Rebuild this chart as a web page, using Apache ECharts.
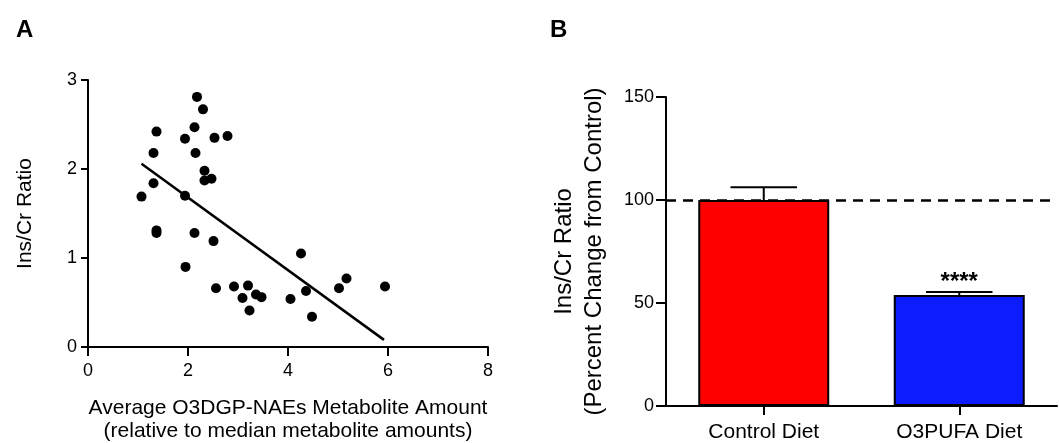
<!DOCTYPE html>
<html>
<head>
<meta charset="utf-8">
<script src="https://cdn.jsdelivr.net/npm/echarts@6/dist/echarts.min.js"></script>
<style>
html,body{margin:0;padding:0;background:#fff;}
#chart{width:1059px;height:443px;}
</style>
</head>
<body>
<div id="chart"></div>
<script>
// Panel A: scatter data
const scatterX = [2.18, 2.30, 1.37, 2.13, 1.94, 2.53, 2.79, 1.31, 2.15, 2.33, 2.33, 2.47, 1.31, 1.07, 1.94,
                  1.37, 1.37, 2.13, 2.51, 1.95, 2.56, 2.92, 3.20, 3.09, 3.36, 3.47, 3.23, 4.05, 4.26, 4.36,
                  4.48, 5.02, 5.17, 5.94];
const scatterY = [2.81, 2.67, 2.42, 2.47, 2.34, 2.35, 2.37, 2.18, 2.18, 1.98, 1.87, 1.89, 1.84, 1.69, 1.70,
                  1.31, 1.28, 1.28, 1.19, 0.90, 0.66, 0.68, 0.69, 0.55, 0.59, 0.56, 0.41, 0.54, 1.05, 0.63,
                  0.34, 0.66, 0.77, 0.68];
// Regression line endpoints
const fitX = [1.07, 5.92];
const fitY = [2.06, 0.08];
const xTicksA = [0, 2, 4, 6, 8];
const yTicksA = [0, 1, 2, 3];

// Panel B: bar data
const barCategories = ['Control Diet', 'O3PUFA Diet'];
const barValues = [100, 53.9];
const barErrors = [6.2, 1.4];
const barSignif = ['', '****'];
const referenceLevel = 100;
const yTicksB = [0, 50, 100, 150];

const FONT = "'Liberation Sans', Arial, sans-serif";
const chart = echarts.init(document.getElementById('chart'), null, {renderer: 'canvas'});

const scatterData = scatterX.map((x, i) => [x, scatterY[i]]);
const fitData = fitX.map((x, i) => [x, fitY[i]]);
const errData = barValues.map((v, i) => [i, v, v + barErrors[i]]);

const axisLine = {show: true, onZero: false, lineStyle: {color: '#000', width: 2}};

const option = {
  backgroundColor: '#fff',
  animation: false,
  title: [
    {text: 'A', left: 11, top: 13, textStyle: {fontFamily: FONT, fontWeight: 'bold', fontSize: 24, color: '#000'}},
    {text: 'B', left: 545, top: 13, textStyle: {fontFamily: FONT, fontWeight: 'bold', fontSize: 24, color: '#000'}}
  ],
  grid: [
    {left: 88, top: 80, width: 400, height: 267, containLabel: false, outerBoundsMode: 'none'},
    {left: 666, top: 97, width: 391, height: 309, containLabel: false, outerBoundsMode: 'none'}
  ],
  xAxis: [
    {
      type: 'value', gridIndex: 0, min: 0, max: 8, interval: 2,
      axisLine: axisLine, axisTick: {show: true, length: 9, lineStyle: {color: '#000', width: 2}}, splitLine: {show: false},
      axisLabel: {fontFamily: FONT, fontSize: 18, color: '#000', margin: 15,
                  formatter: v => xTicksA.includes(v) ? String(v) : ''},
      name: 'Average O3DGP-NAEs Metabolite Amount\n(relative to median metabolite amounts)',
      nameLocation: 'middle', nameGap: 50,
      nameTextStyle: {fontFamily: FONT, fontSize: 21, color: '#000', lineHeight: 23, verticalAlign: 'top'}
    },
    {
      type: 'category', gridIndex: 1, data: barCategories,
      axisLine: axisLine, axisTick: {show: true, length: 9, alignWithLabel: true, lineStyle: {color: '#000', width: 2}},
      axisLabel: {fontFamily: FONT, fontSize: 21, color: '#000', margin: 16}
    }
  ],
  yAxis: [
    {
      type: 'value', gridIndex: 0, min: 0, max: 3, interval: 1,
      axisLine: axisLine, axisTick: {show: true, length: 7, lineStyle: {color: '#000', width: 2}}, splitLine: {show: false},
      axisLabel: {fontFamily: FONT, fontSize: 18, color: '#000', margin: 11,
                  formatter: v => yTicksA.includes(v) ? String(v) : ''},
      name: 'Ins/Cr Ratio', nameLocation: 'middle', nameGap: 52,
      nameTextStyle: {fontFamily: FONT, fontSize: 21, color: '#000'}
    },
    {
      type: 'value', gridIndex: 1, min: 0, max: 150, interval: 50,
      axisLine: axisLine, axisTick: {show: true, length: 10, lineStyle: {color: '#000', width: 2}}, splitLine: {show: false},
      axisLabel: {fontFamily: FONT, fontSize: 18, color: '#000', margin: 12,
                  formatter: v => yTicksB.includes(v) ? String(v) : ''},
      name: 'Ins/Cr Ratio\n(Percent Change from Control)', nameLocation: 'middle', nameGap: 57,
      nameTextStyle: {fontFamily: FONT, fontSize: 24, color: '#000', lineHeight: 30}
    }
  ],
  series: [
    {
      type: 'scatter', xAxisIndex: 0, yAxisIndex: 0, data: scatterData,
      symbol: 'circle', symbolSize: 10, itemStyle: {color: '#000', opacity: 1}, z: 3
    },
    {
      type: 'line', xAxisIndex: 0, yAxisIndex: 0, data: fitData,
      showSymbol: false, symbol: 'none', lineStyle: {color: '#000', width: 2.5}, z: 2
    },
    {
      type: 'bar', xAxisIndex: 1, yAxisIndex: 1, data: barValues.map((v, i) => ({
        value: v, itemStyle: {color: i === 0 ? '#ff0000' : '#0c1cff'}
      })),
      barWidth: '67%',
      itemStyle: {borderColor: '#000', borderWidth: 2},
      markLine: {
        silent: true, symbol: 'none',
        label: {show: false},
        lineStyle: {color: '#000', width: 2.5, type: [10, 7]},
        data: [{yAxis: referenceLevel}]
      },
      z: 2
    },
    {
      type: 'custom', xAxisIndex: 1, yAxisIndex: 1, data: errData, z: 3,
      renderItem: function (params, api) {
        const idx = api.value(0);
        const lo = api.coord([idx, api.value(1)]);
        const hi = api.coord([idx, api.value(2)]);
        const halfW = api.size([1, 0])[0] * 0.17;
        const children = [
          {type: 'line', shape: {x1: hi[0], y1: lo[1], x2: hi[0], y2: hi[1]}, style: {stroke: '#000', lineWidth: 2}},
          {type: 'line', shape: {x1: hi[0] - halfW, y1: hi[1], x2: hi[0] + halfW, y2: hi[1]}, style: {stroke: '#000', lineWidth: 2}}
        ];
        const s = barSignif[params.dataIndex];
        if (s) {
          children.push({type: 'text', x: hi[0], y: hi[1] - 10,
            style: {text: s, fill: '#000', font: 'bold 24px ' + FONT, textAlign: 'center', textVerticalAlign: 'middle'}});
        }
        return {type: 'group', children: children};
      }
    }
  ]
};
chart.setOption(option);
</script>
</body>
</html>
